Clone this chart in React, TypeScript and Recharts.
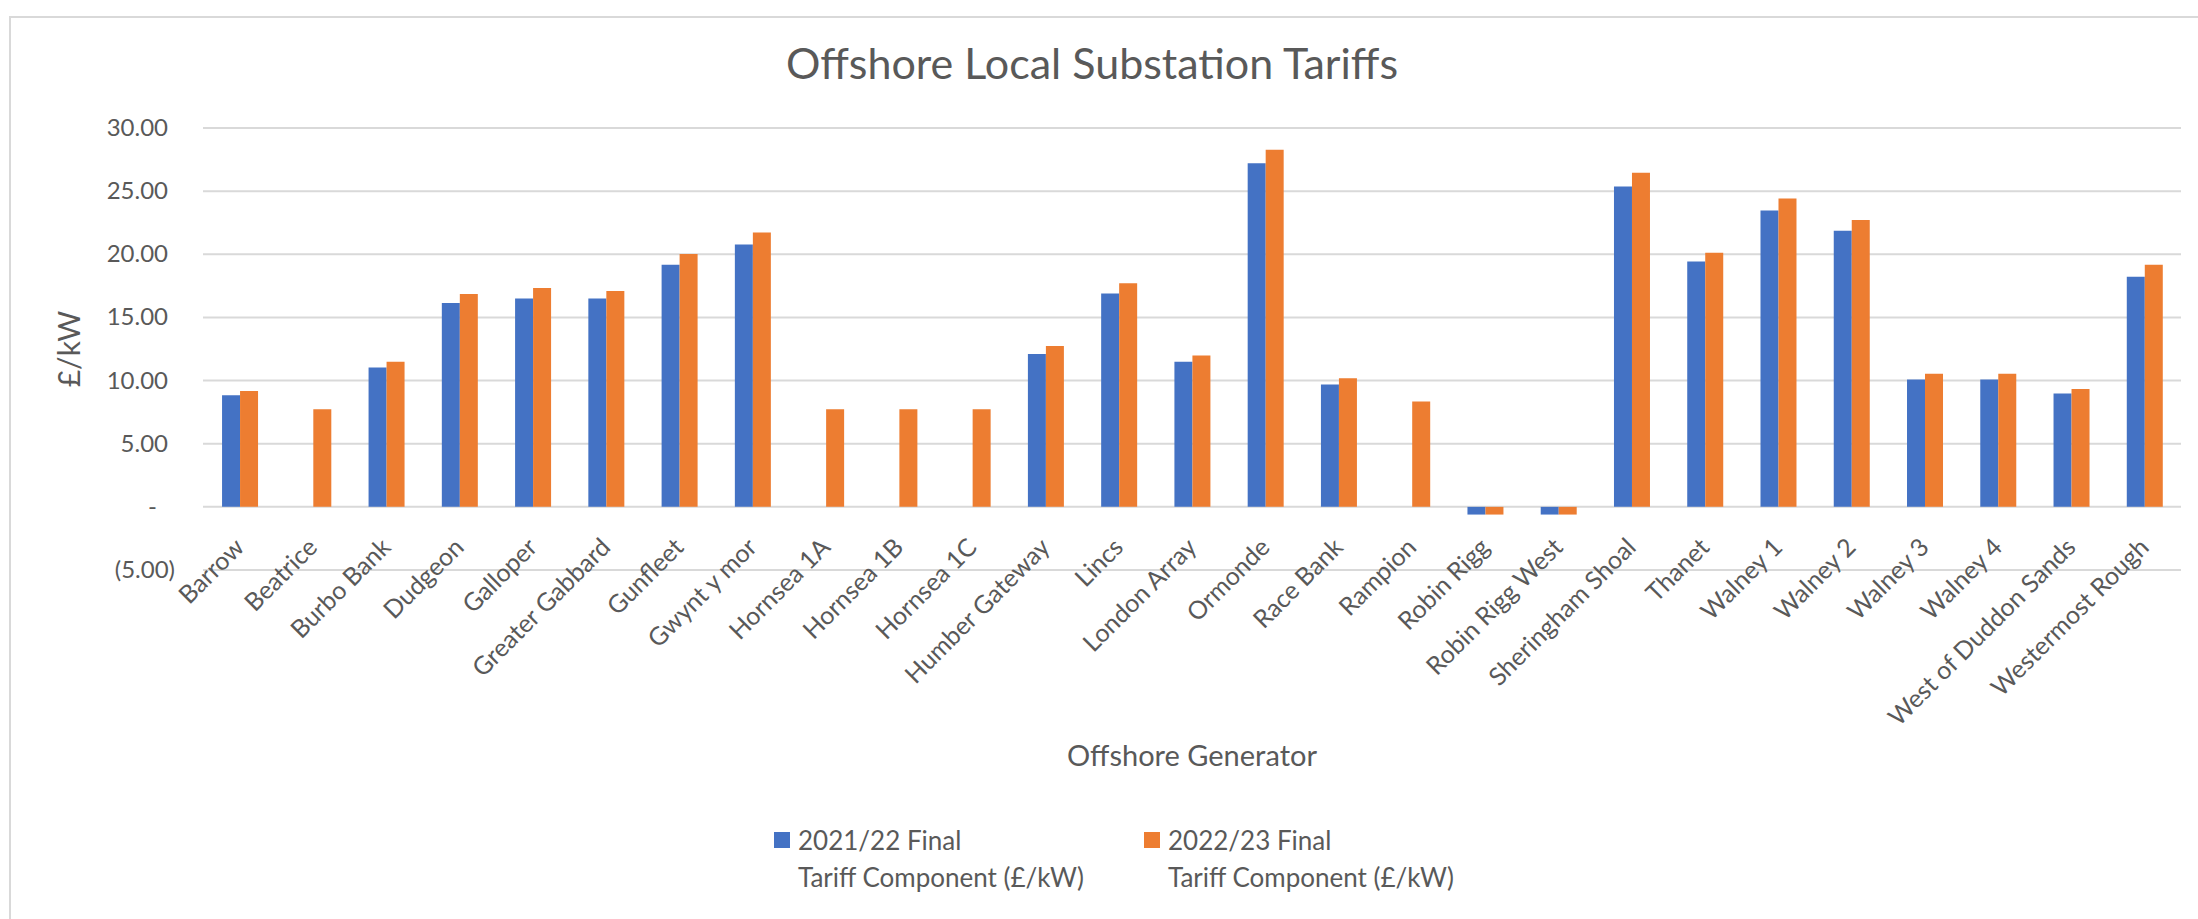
import { BarChart, Bar, XAxis, YAxis, CartesianGrid, Legend } from 'recharts'

const generators = [
  'Barrow', 'Beatrice', 'Burbo Bank', 'Dudgeon', 'Galloper', 'Greater Gabbard', 'Gunfleet',
  'Gwynt y mor', 'Hornsea 1A', 'Hornsea 1B', 'Hornsea 1C', 'Humber Gateway', 'Lincs',
  'London Array', 'Ormonde', 'Race Bank', 'Rampion', 'Robin Rigg', 'Robin Rigg West',
  'Sheringham Shoal', 'Thanet', 'Walney 1', 'Walney 2', 'Walney 3', 'Walney 4',
  'West of Duddon Sands', 'Westermost Rough',
]

const tariff2122 = [
  8.84, null, 11.03, 16.15, 16.49, 16.49, 19.18, 20.77, null, null, null, 12.11, 16.89,
  11.5, 27.2, 9.68, null, -0.61, -0.61, 25.36, 19.42, 23.46, 21.87, 10.08, 10.08, 8.97, 18.23,
]

const tariff2223 = [
  9.18, 7.73, 11.5, 16.86, 17.33, 17.1, 20.03, 21.72, 7.73, 7.73, 7.73, 12.74, 17.7,
  11.98, 28.28, 10.18, 8.34, -0.61, -0.61, 26.46, 20.13, 24.41, 22.72, 10.55, 10.55, 9.34, 19.18,
]

const yTicks = [-5, 0, 5, 10, 15, 20, 25, 30]

const seriesNames = ['2021/22 Final', '2022/23 Final']
const seriesColors = ['#4472C4', '#ED7D31']

const data = generators.map((name, i) => ({
  name,
  a: tariff2122[i],
  b: tariff2223[i],
}))

const FONT = 'Lato, "Open Sans", sans-serif'
const TEXT = '#595959'

// plot area: 203..2181 horizontally, 128..570 vertically
const PLOT_TOP = 128
const PLOT_BOTTOM = 570
const zeroShift = ((PLOT_BOTTOM - PLOT_TOP) * 5) / 35

const fmt = (v: number) => {
  if (v === 0) return '-'
  if (v < 0) return `(${Math.abs(v).toFixed(2)})`
  return v.toFixed(2)
}

const YTick = (props: any) => {
  const { x, y, payload } = props
  const v = payload.value
  const dx = v < 0 ? 7 : v === 0 ? -11 : 0
  return (
    <text x={x + dx} y={y} dy={8} textAnchor="end" fill={TEXT} fontSize={24} fontFamily={FONT}>
      {fmt(v)}
    </text>
  )
}

const XTick = (props: any) => {
  const { x, y, payload } = props
  return (
    <g transform={`translate(${x + 6},${y - zeroShift + 42})`}>
      <text transform="rotate(-45)" textAnchor="end" fill={TEXT} fontSize={25} fontFamily={FONT}>
        {payload.value}
      </text>
    </g>
  )
}

const LegendBox = () => (
  <div style={{ display: 'flex', fontFamily: FONT, fontSize: 26, color: TEXT }}>
    {seriesNames.map((n, i) => (
      <div key={n} style={{ display: 'flex', width: 370 }}>
        <div style={{ width: 16, height: 16, background: seriesColors[i], marginTop: 10, marginRight: 8 }} />
        <div style={{ lineHeight: '37px' }}>
          <div>{n}</div>
          <div>Tariff Component (£/kW)</div>
        </div>
      </div>
    ))}
  </div>
)

export default function App() {
  return (
    <div style={{ position: 'absolute', left: 0, top: 0, width: 2198, height: 919, overflow: 'hidden', background: '#fff' }}>
      <div style={{ position: 'absolute', left: 9, top: 16, width: 2400, height: 1100, border: '2px solid #d9d9d9' }} />
      <div
        style={{
          position: 'absolute', left: 0, width: 2184, top: 37, textAlign: 'center',
          fontFamily: FONT, fontSize: 43, color: TEXT,
        }}
      >
        Offshore Local Substation Tariffs
      </div>
      <div style={{ position: 'absolute', left: 0, top: 0 }}>
        <BarChart
          width={2198}
          height={919}
          data={data}
          margin={{ top: PLOT_TOP, right: 17, left: 13, bottom: 0 }}
          barCategoryGap="26%"
          barGap={0}
        >
          <CartesianGrid vertical={false} stroke="#d9d9d9" strokeWidth={2} />
          <XAxis
            dataKey="name"
            interval={0}
            axisLine={false}
            tickLine={false}
            tickSize={0}
            tickMargin={0}
            height={919 - PLOT_BOTTOM}
            tick={<XTick />}
            label={{
              content: (p: any) => (
                <text
                  x={p.viewBox.x + p.viewBox.width / 2}
                  y={766}
                  textAnchor="middle"
                  fill={TEXT}
                  fontSize={29}
                  fontFamily={FONT}
                >
                  Offshore Generator
                </text>
              ),
            }}
          />
          <YAxis
            width={190}
            domain={[-5, 30]}
            ticks={yTicks}
            axisLine={false}
            tickLine={false}
            tickSize={0}
            tickMargin={35}
            tick={<YTick />}
            label={{
              content: (p: any) => (
                <text
                  transform={`translate(80,${p.viewBox.y + p.viewBox.height / 2}) rotate(-90)`}
                  textAnchor="middle"
                  fill={TEXT}
                  fontSize={30}
                  fontFamily={FONT}
                >
                  £/kW
                </text>
              ),
            }}
          />
          <Legend
            layout="horizontal"
            verticalAlign="middle"
            align="center"
            content={<LegendBox />}
            wrapperStyle={{ position: 'absolute', left: 774, top: 822, width: 800 }}
          />
          <Bar dataKey="a" name={seriesNames[0]} fill={seriesColors[0]} isAnimationActive={false} />
          <Bar dataKey="b" name={seriesNames[1]} fill={seriesColors[1]} isAnimationActive={false} />
        </BarChart>
      </div>
    </div>
  )
}
